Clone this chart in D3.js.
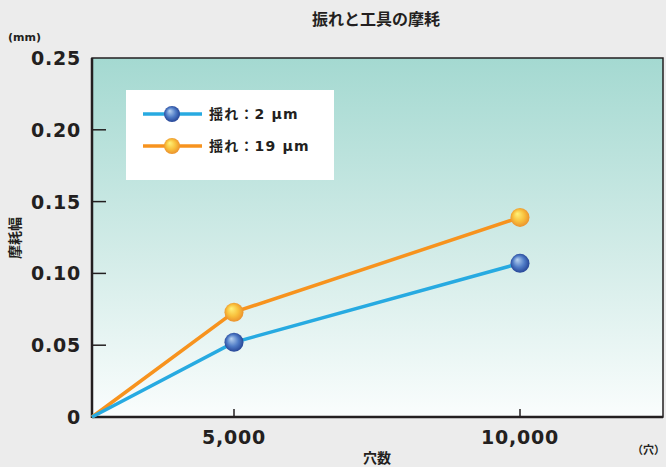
<!DOCTYPE html>
<html>
<head>
<meta charset="utf-8">
<script src="https://cdn.jsdelivr.net/npm/d3@7"></script>
<style>
  body { margin: 0; background: #ececec; }
  svg { display: block; }
  text { font-family: "DejaVu Sans", "Noto Sans CJK JP", sans-serif; fill: #231f20; }
  .jp { font-family: "Noto Sans CJK JP", sans-serif; font-weight: 700; }
  .lg { font-family: "DejaVu Sans", "Noto Sans CJK JP", sans-serif; font-weight: 700; }
</style>
</head>
<body>
<div id="chart"></div>
<script>
// data
var holes = [0, 5000, 10000];
var wear2 = [0, 0.052, 0.107];   // 揺れ：2 μm
var wear19 = [0, 0.073, 0.139];  // 揺れ：19 μm
var yTicks = [0, 0.05, 0.10, 0.15, 0.20, 0.25];
var xTicks = [5000, 10000];
var seriesNames = ["揺れ：2 μm", "揺れ：19 μm"];

var width = 666, height = 467;
var pLeft = 92, pTop = 58, pRight = 663, pBottom = 417;

var svg = d3.select("#chart").append("svg")
    .attr("width", width)
    .attr("height", height);

var defs = svg.append("defs");
var bg = defs.append("linearGradient").attr("id", "bg")
    .attr("x1", 0).attr("y1", 0).attr("x2", 0).attr("y2", 1);
bg.append("stop").attr("offset", "0%").attr("stop-color", "#a4d9d1");
bg.append("stop").attr("offset", "55%").attr("stop-color", "#d3ece8");
bg.append("stop").attr("offset", "100%").attr("stop-color", "#fafdfd");

function ball(id, c0, c1, c2) {
  var g = defs.append("radialGradient").attr("id", id)
      .attr("cx", "50%").attr("cy", "50%").attr("r", "55%")
      .attr("fx", "35%").attr("fy", "30%");
  g.append("stop").attr("offset", "0%").attr("stop-color", c0);
  g.append("stop").attr("offset", "55%").attr("stop-color", c1);
  g.append("stop").attr("offset", "100%").attr("stop-color", c2);
}
ball("ballBlue", "#b9d3f0", "#4f7bc6", "#1f3c8e");
ball("ballOrange", "#fff27a", "#f8c03c", "#e98a2a");

// x axis is not evenly spaced in the original, so use a polylinear scale
var x = d3.scaleLinear().domain([0, 5000, 12500]).range([pLeft, 234, pRight]);
var y = d3.scaleLinear().domain([0, 0.25]).range([pBottom, pTop]);

svg.append("rect")
    .attr("x", pLeft).attr("y", pTop)
    .attr("width", pRight - pLeft).attr("height", pBottom - pTop)
    .attr("fill", "url(#bg)")
    .attr("stroke", "#231f20").attr("stroke-width", 1.5);

// inner ticks
svg.append("g").selectAll("line")
    .data(yTicks.slice(1, 5))
    .enter().append("line")
    .attr("x1", pLeft).attr("x2", pLeft + 14)
    .attr("y1", function (d) { return y(d); })
    .attr("y2", function (d) { return y(d); })
    .attr("stroke", "#231f20").attr("stroke-width", 1.5);

svg.append("g").selectAll("line")
    .data(xTicks)
    .enter().append("line")
    .attr("x1", function (d) { return x(d); })
    .attr("x2", function (d) { return x(d); })
    .attr("y1", pBottom).attr("y2", pBottom - 8)
    .attr("stroke", "#231f20").attr("stroke-width", 1.5);

// heavier left and bottom axis lines
svg.append("line").attr("x1", pLeft).attr("x2", pLeft).attr("y1", pTop).attr("y2", pBottom + 1)
    .attr("stroke", "#231f20").attr("stroke-width", 2.5);
svg.append("line").attr("x1", pLeft).attr("x2", pRight).attr("y1", pBottom).attr("y2", pBottom)
    .attr("stroke", "#231f20").attr("stroke-width", 2.5);

// tick labels
svg.append("g").selectAll("text")
    .data(yTicks)
    .enter().append("text")
    .attr("x", 81)
    .attr("y", function (d) { return y(d) + 7; })
    .attr("text-anchor", "end")
    .attr("font-size", 19).attr("font-weight", "bold")
    .attr("letter-spacing", 0.8)
    .text(function (d) { return d === 0 ? "0" : d3.format(".2f")(d); });

svg.append("g").selectAll("text")
    .data(xTicks)
    .enter().append("text")
    .attr("x", function (d) { return x(d); })
    .attr("y", 444)
    .attr("text-anchor", "middle")
    .attr("font-size", 19).attr("font-weight", "bold")
    .attr("letter-spacing", 0.8)
    .text(function (d) { return d3.format(",")(d); });

// titles
svg.append("text").attr("class", "jp").attr("x", 376).attr("y", 25)
    .attr("text-anchor", "middle").attr("font-size", 16).text("振れと工具の摩耗");
svg.append("text").attr("x", 8).attr("y", 41)
    .attr("font-size", 11).attr("font-weight", "bold").text("(mm)");
svg.append("text").attr("class", "jp")
    .attr("transform", "translate(20,238) rotate(-90)")
    .attr("text-anchor", "middle").attr("font-size", 14).text("摩耗幅");
svg.append("text").attr("class", "jp").attr("x", 377).attr("y", 463)
    .attr("text-anchor", "middle").attr("font-size", 14).text("穴数");
svg.append("text").attr("class", "jp").attr("x", 665).attr("y", 454)
    .attr("text-anchor", "end").attr("font-size", 11).text("（穴）");

// lines
var line = d3.line()
    .x(function (d, i) { return x(holes[i]); })
    .y(function (d) { return y(d); });

var series = [
  { values: wear2, color: "#27aae1", ball: "url(#ballBlue)" },
  { values: wear19, color: "#f7931e", ball: "url(#ballOrange)" }
];

series.slice().reverse().forEach(function (s) {
  svg.append("path")
      .attr("d", line(s.values))
      .attr("fill", "none")
      .attr("stroke", s.color)
      .attr("stroke-width", 3.5);
});

series.forEach(function (s) {
  svg.append("g").selectAll("circle")
      .data(s.values.slice(1))
      .enter().append("circle")
      .attr("cx", function (d, i) { return x(holes[i + 1]); })
      .attr("cy", function (d) { return y(d); })
      .attr("r", 9.5)
      .attr("fill", s.ball);
});

// legend
var lg = svg.append("g");
lg.append("rect").attr("x", 126).attr("y", 90).attr("width", 208).attr("height", 90)
    .attr("fill", "#ffffff");
series.forEach(function (s, i) {
  var ly = 114 + i * 32;
  lg.append("line").attr("x1", 143).attr("x2", 202).attr("y1", ly).attr("y2", ly)
      .attr("stroke", s.color).attr("stroke-width", 3.5);
  lg.append("circle").attr("cx", 172).attr("cy", ly).attr("r", 8).attr("fill", s.ball);
  lg.append("text").attr("class", "lg").attr("x", 209).attr("y", ly + 5)
      .attr("font-size", 14).attr("letter-spacing", 1.2).text(seriesNames[i]);
});
</script>
</body>
</html>
